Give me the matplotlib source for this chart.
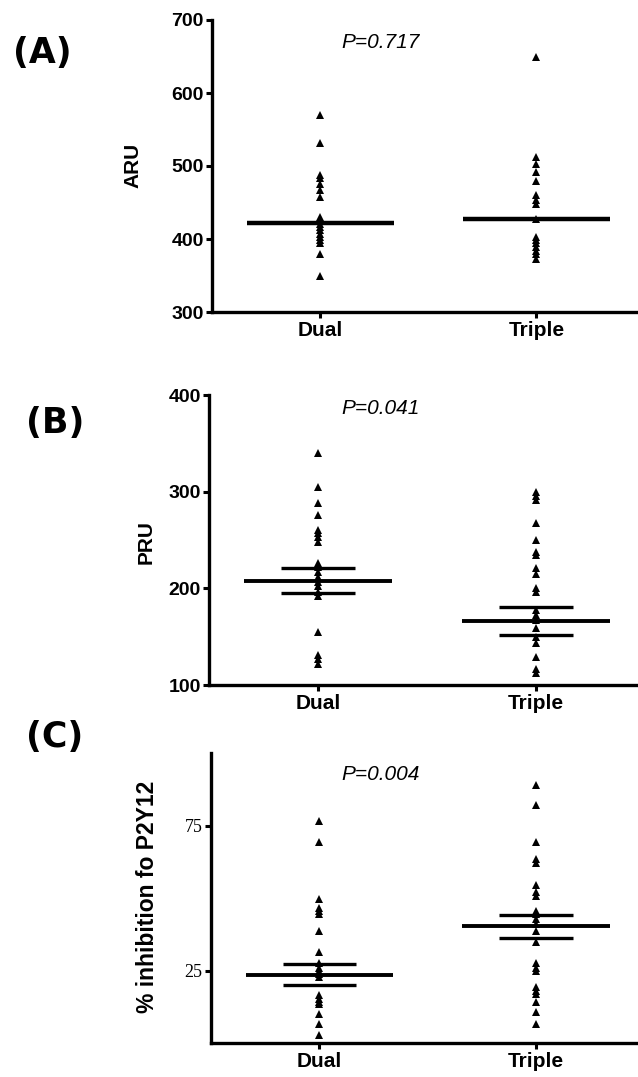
import matplotlib
matplotlib.use('Agg')
import matplotlib.pyplot as plt

groups = ['Dual', 'Triple']

# Panel A: ARU
aru_dual = [570, 532, 487, 483, 476, 467, 457, 430, 426, 420, 416, 412, 407, 403, 399, 395, 380, 350]
aru_triple = [650, 512, 503, 492, 480, 460, 453, 448, 427, 403, 398, 394, 389, 384, 380, 373]
aru_mean = [422, 427]
aru_sem = [0, 0]
aru_p = 'P=0.717'

# Panel B: PRU
pru_dual = [340, 305, 288, 276, 260, 257, 253, 248, 226, 222, 217, 212, 207, 202, 196, 192, 155, 131, 127, 122]
pru_triple = [300, 296, 291, 268, 250, 238, 234, 221, 215, 200, 196, 178, 172, 167, 159, 150, 143, 129, 117, 112]
pru_mean = [208, 166.5]
pru_sem = [13, 14.5]
pru_p = 'P=0.041'

# Panel C: % inhibition for P2Y12
inh_dual = [76.5, 69.3, 49.6, 46.7, 45.4, 44.5, 38.5, 31.5, 27.5, 26, 25, 23.9, 22.7, 16.4, 15.3, 14.1, 13.6, 9.9, 6.7, 2.7]
inh_triple = [89, 82, 69.3, 63.3, 62.2, 54.4, 51.9, 50.7, 45.6, 44.5, 42.7, 41.2, 38.7, 34.7, 27.5, 26, 25, 19.3, 18.1, 16.8, 14.1, 10.7, 6.7]
inh_mean = [23.6, 40.3]
inh_sem = [3.7, 4.0]
inh_p = 'P=0.004'

W, H = 638, 1077
fig = plt.figure(figsize=(W / 100, H / 100), dpi=100)

def px_rect(left, top, right, bottom):
    return [left / W, 1 - bottom / H, (right - left) / W, (bottom - top) / H]

panels = [
    dict(rect=px_rect(212, 20, 638, 312), dual=aru_dual, triple=aru_triple, mean=aru_mean, sem=aru_sem,
         ylim=(300, 700), yticks=[300, 400, 500, 600, 700], ylabel='ARU', ylab_xy=(133, 165),
         p=aru_p, p_xy=(381, 43), tag='(A)', tag_xy=(42, 53), serif_ticks=False, ylab_size=15, mean_lw=3.2),
    dict(rect=px_rect(209, 395, 638, 685), dual=pru_dual, triple=pru_triple, mean=pru_mean, sem=pru_sem,
         ylim=(100, 400), yticks=[100, 200, 300, 400], ylabel='PRU', ylab_xy=(146, 542),
         p=pru_p, p_xy=(381, 408), tag='(B)', tag_xy=(55, 423), serif_ticks=False, ylab_size=15, mean_lw=2.8),
    dict(rect=px_rect(211, 753, 638, 1043), dual=inh_dual, triple=inh_triple, mean=inh_mean, sem=inh_sem,
         ylim=(0, 100), yticks=[25, 75], ylabel='% inhibition fo P2Y12', ylab_xy=(148, 897),
         p=inh_p, p_xy=(381, 775), tag='(C)', tag_xy=(55, 737), serif_ticks=True, ylab_size=16.5, mean_lw=2.8),
]

for pn in panels:
    ax = fig.add_axes(pn['rect'])
    for i, vals in enumerate([pn['dual'], pn['triple']]):
        ax.plot([i] * len(vals), vals, linestyle='none', marker='^', ms=5.2,
                color='black', markeredgewidth=0, clip_on=False, zorder=3)
        m = pn['mean'][i]
        ax.plot([i - 0.34, i + 0.34], [m, m], color='black', lw=pn['mean_lw'], solid_capstyle='butt', zorder=4)
        s = pn['sem'][i]
        if s > 0:
            ax.plot([i - 0.17, i + 0.17], [m + s, m + s], color='black', lw=2.4, solid_capstyle='butt', zorder=4)
            ax.plot([i - 0.17, i + 0.17], [m - s, m - s], color='black', lw=2.4, solid_capstyle='butt', zorder=4)
    ax.set_xlim(-0.5, 1.47)
    ax.set_ylim(*pn['ylim'])
    ax.set_yticks(pn['yticks'])
    ax.set_xticks([0, 1])
    ax.set_xticklabels(groups, fontfamily='Liberation Sans', fontweight='bold', fontsize=15)
    if pn['serif_ticks']:
        ax.set_yticklabels([str(t) for t in pn['yticks']], fontfamily='Liberation Serif', fontsize=13)
    else:
        ax.set_yticklabels([str(t) for t in pn['yticks']], fontfamily='Liberation Sans',
                           fontweight='bold', fontsize=14)
    for side in ['top', 'right']:
        ax.spines[side].set_visible(False)
    for side in ['left', 'bottom']:
        ax.spines[side].set_linewidth(2.4)
    ax.tick_params(axis='both', direction='out', length=4.5, width=2.2, pad=1.5)
    ax.tick_params(axis='x', pad=2)
    fig.text(pn['ylab_xy'][0] / W, 1 - pn['ylab_xy'][1] / H, pn['ylabel'], rotation=90,
             ha='center', va='center', fontfamily='Liberation Sans', fontweight='bold',
             fontsize=pn['ylab_size'])
    fig.text(pn['p_xy'][0] / W, 1 - pn['p_xy'][1] / H, pn['p'], ha='center', va='center',
             fontfamily='Liberation Sans', fontstyle='italic', fontsize=15)
    fig.text(pn['tag_xy'][0] / W, 1 - pn['tag_xy'][1] / H, pn['tag'], ha='center', va='center',
             fontfamily='DejaVu Sans', fontweight='heavy', fontsize=25)

fig.savefig('out.png', dpi=100)
